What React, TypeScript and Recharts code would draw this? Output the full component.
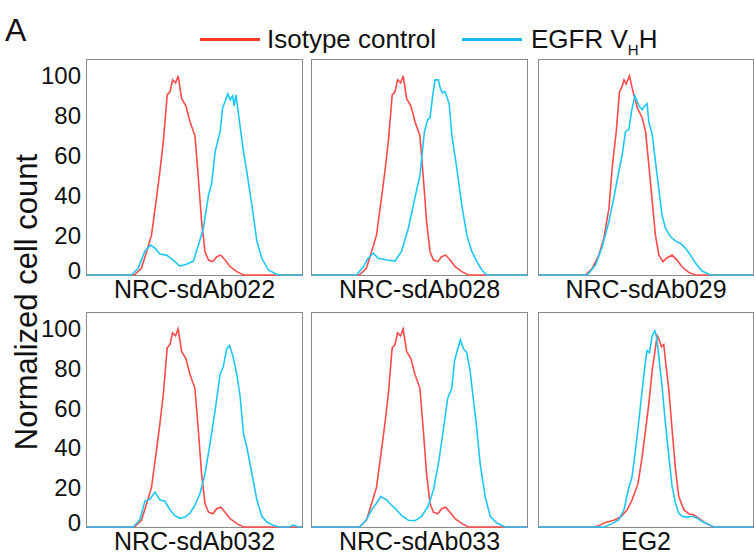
import React from 'react';
import { LineChart, Line, XAxis, YAxis } from 'recharts';

// [channel position (0-100 of panel width), normalized count]
const isotypeRed: number[][] = [
  [0, 0], [22, 0], [25.3, 3.4], [27.7, 11.7], [30, 20], [32.3, 38.5], [33.9, 52], [35.5, 67],
  [37.3, 90.5], [38.6, 92], [39.8, 98], [41.2, 96.5], [42.4, 100], [44, 88.6], [46, 85],
  [47.9, 77], [50.2, 70], [51.8, 48.6], [53.3, 26.8], [54.9, 11.7], [56.5, 7.5], [58.5, 6.7],
  [60.3, 9.2], [62.2, 10], [64.2, 7.5], [66.6, 4.2], [69.7, 1.7], [72.8, 0], [100, 0],
];

const sdAb022Blue: number[][] = [
  [0, 0], [20.7, 0], [23.8, 3.4], [26.9, 12], [29.5, 15], [31.6, 13.5], [33.9, 10.5], [37, 10],
  [40.1, 7.5], [43.2, 4.5], [46.3, 5.4], [49.5, 7], [51.8, 15], [54.1, 23.5], [56.5, 40],
  [58, 46], [59.6, 62], [60.3, 65], [61.9, 72], [63.1, 84], [64.2, 87], [65.5, 91], [66.6, 88],
  [67.8, 90], [68.4, 85], [69.3, 90.5], [70.9, 77], [72.8, 62], [74.3, 52], [76.7, 35],
  [79, 17], [81.3, 8.4], [84.4, 2.5], [88.3, 0.3], [90, 0], [100, 0],
];

const sdAb028Blue: number[][] = [
  [0, 0], [20.7, 0], [23.8, 4], [26.1, 8.4], [28.5, 11], [30.8, 8.4], [34.7, 7.5], [38.6, 7],
  [41.7, 12], [44.8, 23.5], [47.9, 39], [50.2, 50], [52.3, 72], [53.8, 78], [54.9, 79], [56, 89],
  [57.2, 98], [58.8, 98], [59.6, 94], [60.7, 91.5], [61.9, 92], [63.8, 86], [65, 70.5],
  [67.3, 54], [69.7, 35], [72, 20], [74.3, 12], [76.7, 6.7], [79, 2.5], [81.3, 0], [100, 0],
];

const sdAb029Red: number[][] = [
  [0, 0], [21.8, 0], [24.9, 3.4], [28, 10], [30.3, 18.5], [32.7, 33.6], [34.2, 54], [36.1, 72],
  [37.6, 92], [38.9, 95], [39.7, 98], [40.7, 96], [42.3, 100], [43.5, 94], [45.9, 84],
  [48.2, 79], [49.8, 72], [51.3, 55.5], [53.2, 33.6], [54.4, 20], [56, 10], [57.9, 6.7],
  [59.9, 8.7], [62.2, 10], [64.5, 7.5], [66.9, 4], [70, 1.3], [73.1, 0], [100, 0],
];

const sdAb029Blue: number[][] = [
  [0, 0], [22.6, 0], [26.4, 5], [29.5, 14], [32.7, 27], [35, 39], [37.3, 52], [38.9, 60.5],
  [40.4, 72], [42, 73], [43.2, 82], [44.8, 90], [46.7, 85], [48.2, 83], [49.5, 85], [50.5, 86],
  [51.3, 77], [52.9, 70.5], [55.2, 50], [57.5, 30], [59.1, 23.5], [61.4, 19.3], [63.8, 17],
  [66.1, 16], [68.4, 13.5], [70.8, 10], [73.1, 6], [76.2, 2], [80.1, 0], [100, 0],
];

const sdAb032Blue: number[][] = [
  [0, 0], [21.5, 0], [24.6, 3.7], [26.9, 13], [29.2, 14], [31.6, 17.6], [33.9, 13.7], [36.2, 13],
  [38.6, 8.7], [40.9, 5.7], [43.2, 4.4], [45.6, 5], [47.9, 7], [50.2, 11], [52.6, 17],
  [54.9, 27], [57.2, 42], [59.6, 59], [61.9, 77], [63.4, 81], [65, 90], [66.3, 91.6],
  [67.8, 86.6], [69.7, 77], [71.2, 66], [72.8, 47], [74.3, 40.5], [76.7, 27], [79, 13.7],
  [81.3, 5.4], [83.7, 2.5], [86.8, 0.7], [89.9, 0], [94, 0], [96, 1], [98.4, 0], [100, 0],
];

const sdAb033Blue: number[][] = [
  [0, 0], [22.2, 0], [25.3, 3.7], [27.7, 8.7], [30, 12], [32, 15.4], [34.7, 13.7], [37, 11],
  [39.3, 8.7], [41.7, 5.7], [44.8, 3.4], [47.9, 3.2], [51, 5.4], [54.1, 10.7], [56.5, 18.8],
  [58.8, 32], [61.1, 49], [63.1, 65], [65, 70], [66.3, 84], [67.8, 90], [69, 94.5], [70.4, 90],
  [72, 88], [73.5, 79], [75.1, 64], [76.7, 49], [78.2, 32], [80.6, 15], [82.9, 5.4], [86, 2],
  [89.9, 0], [100, 0],
];

const eg2Red: number[][] = [
  [0, 0], [25.7, 0], [28, 0.7], [31.1, 2.3], [35, 3.4], [38.1, 5], [41.2, 8.7], [43.5, 13.7],
  [46.3, 22], [48.2, 35.5], [49.8, 49], [51.3, 62], [52.9, 79], [54.1, 88], [55.2, 96.6],
  [56, 95], [57.2, 91], [58.3, 92], [59.4, 81], [60.7, 69], [62.2, 49], [63.8, 29], [65.3, 15.4],
  [67.7, 8.7], [70, 6.7], [72.3, 6.2], [74.6, 4.5], [77.8, 2], [81.6, 0], [100, 0],
];

const eg2Blue: number[][] = [
  [0, 0], [30.3, 0], [34.2, 1.7], [37.3, 3.7], [39.7, 8.7], [41.7, 18.8], [43.5, 25.5],
  [45.1, 39], [46.7, 54], [48.2, 69], [49.8, 84], [50.5, 89], [51.6, 88], [52.9, 96.6],
  [54.1, 99], [54.9, 96], [56, 86], [57.5, 71], [59.1, 52], [60.7, 35.5], [62.2, 20.4],
  [63.8, 12], [65.3, 7], [66.9, 5.4], [69.2, 5], [71.5, 5.4], [73.9, 4.5], [76.2, 2.8],
  [79.3, 1.2], [81.6, 0], [100, 0],
];

const panelLabels = ['NRC-sdAb022', 'NRC-sdAb028', 'NRC-sdAb029', 'NRC-sdAb032', 'NRC-sdAb033', 'EG2'];
const yTicks = [0, 20, 40, 60, 80, 100];

const RED = '#ff4a4a';
const BLUE = '#1ec6f6';
const FONT = '"Liberation Sans", Arial, sans-serif';
const Y_AXIS_W = 60;
const PAD_B = 16;

const toPoints = (arr: number[][]) => arr.map(([x, y]) => ({ x, y }));

// the "0" label sits a little above the baseline in the original
const YTick = (props: any) => {
  const { x, y, payload } = props;
  const shift = payload.value === 0 ? -5 : 0;
  return (
    <text
      x={x}
      y={y + shift}
      dy="0.355em"
      textAnchor="end"
      fill="#111"
      fontSize={24}
      fontFamily={FONT}
    >
      {payload.value}
    </text>
  );
};

interface PanelProps {
  left: number;
  top: number;
  width: number;
  height: number;
  red: number[][];
  blue: number[][];
  label: string;
  showY: boolean;
}

const Panel: React.FC<PanelProps> = ({ left, top, width, height, red, blue, label, showY }) => {
  const extra = showY ? Y_AXIS_W : 0;
  return (
    <>
      <div
        style={{
          position: 'absolute',
          left: left - 1,
          top: top - 1,
          width: width + 2,
          height: height + 2,
          boxSizing: 'border-box',
          border: '1.5px solid #8a8a8a',
        }}
      />
      <div style={{ position: 'absolute', left: left - extra, top }}>
        <LineChart
          width={width + extra}
          height={height + PAD_B}
          margin={{ top: 0, right: 0, bottom: PAD_B, left: 0 }}
        >
          <XAxis type="number" dataKey="x" domain={[0, 100]} hide />
          <YAxis
            type="number"
            domain={[0, 108]}
            ticks={yTicks}
            hide={!showY}
            width={Y_AXIS_W}
            axisLine={false}
            tickLine={false}
            tickSize={4}
            tickMargin={2}
            interval={0}
            tick={<YTick />}
          />
          <Line
            data={toPoints(red)}
            dataKey="y"
            type="linear"
            stroke={RED}
            strokeWidth={1.6}
            dot={false}
            isAnimationActive={false}
          />
          <Line
            data={toPoints(blue)}
            dataKey="y"
            type="linear"
            stroke={BLUE}
            strokeWidth={1.6}
            dot={false}
            isAnimationActive={false}
          />
        </LineChart>
      </div>
      <div
        style={{
          position: 'absolute',
          left,
          width,
          top: top + height,
          textAlign: 'center',
          fontSize: 25,
          lineHeight: '28px',
          color: '#111',
          fontFamily: FONT,
        }}
      >
        {label}
      </div>
    </>
  );
};

export default function App() {
  const cols = [
    { left: 87, width: 215 },
    { left: 312, width: 215 },
    { left: 539, width: 214 },
  ];
  const rows = [
    { top: 60, height: 215 },
    { top: 313, height: 214 },
  ];
  const series = [
    [isotypeRed, sdAb022Blue],
    [isotypeRed, sdAb028Blue],
    [sdAb029Red, sdAb029Blue],
    [isotypeRed, sdAb032Blue],
    [isotypeRed, sdAb033Blue],
    [eg2Red, eg2Blue],
  ];

  return (
    <div
      style={{
        position: 'absolute',
        left: 0,
        top: 0,
        width: 754,
        height: 556,
        background: '#fff',
        fontFamily: FONT,
        overflow: 'hidden',
      }}
    >
      <div style={{ position: 'absolute', left: 5, top: 12, fontSize: 32, lineHeight: '36px', color: '#111' }}>A</div>

      {/* legend */}
      <div style={{ position: 'absolute', left: 200, top: 38, width: 60, height: 3, background: '#ff3b22' }} />
      <div style={{ position: 'absolute', left: 267, top: 24, fontSize: 26, lineHeight: '30px', color: '#111' }}>
        Isotype control
      </div>
      <div style={{ position: 'absolute', left: 462, top: 38, width: 60, height: 3, background: '#17b7f0' }} />
      <div style={{ position: 'absolute', left: 531, top: 24, fontSize: 26, lineHeight: '30px', color: '#111' }}>
        EGFR V<sub style={{ fontSize: 15, verticalAlign: -7 }}>H</sub>H
      </div>

      {/* y-axis title */}
      <div
        style={{
          position: 'absolute',
          left: 27,
          top: 302,
          transform: 'translate(-50%, -50%) rotate(-90deg)',
          whiteSpace: 'nowrap',
          fontSize: 31,
          color: '#111',
        }}
      >
        Normalized cell count
      </div>

      {series.map(([red, blue], i) => {
        const c = cols[i % 3];
        const r = rows[Math.floor(i / 3)];
        return (
          <Panel
            key={i}
            left={c.left}
            top={r.top}
            width={c.width}
            height={r.height}
            red={red}
            blue={blue}
            label={panelLabels[i]}
            showY={i % 3 === 0}
          />
        );
      })}
    </div>
  );
}
